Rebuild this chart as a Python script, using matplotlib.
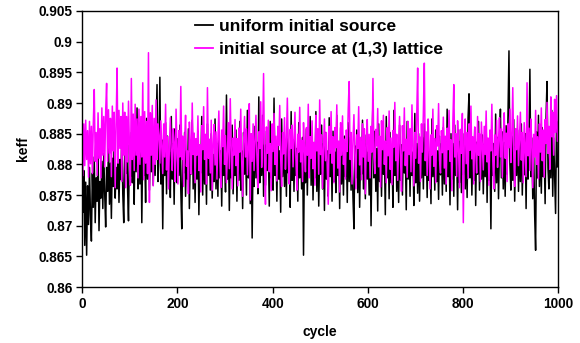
import matplotlib
matplotlib.use("Agg")
import matplotlib.pyplot as plt
from matplotlib.ticker import FuncFormatter

plt.rcParams['font.family'] = ['Liberation Sans', 'DejaVu Sans']

cycles = list(range(1, 1001, 2))

keff_uniform = [
    0.8722, 0.8790, 0.8668, 0.8771, 0.8652, 0.8765, 0.8702, 0.8795, 0.8718, 0.8675, 0.8786, 0.8730, 0.8812, 0.8705, 0.8778, 0.8740, 0.8822, 0.8692, 0.8772, 0.8745,
    0.8805, 0.8728, 0.8818, 0.8752, 0.8698, 0.8795, 0.8756, 0.8832, 0.8735, 0.8802, 0.8712, 0.8810, 0.8764, 0.8840, 0.8745, 0.8795, 0.8760, 0.8822, 0.8738, 0.8808,
    0.8775, 0.8848, 0.8752, 0.8705, 0.8822, 0.8785, 0.8866, 0.8762, 0.8708, 0.8832, 0.8780, 0.8852, 0.8770, 0.8812, 0.8735, 0.8870, 0.8788, 0.8892, 0.8760, 0.8826,
    0.8768, 0.8862, 0.8705, 0.8840, 0.8782, 0.8818, 0.8738, 0.8875, 0.8776, 0.8838, 0.8758, 0.8820, 0.8788, 0.8858, 0.8766, 0.8832, 0.8782, 0.8852, 0.8930, 0.8772,
    0.8815, 0.8942, 0.8768, 0.8840, 0.8695, 0.8826, 0.8782, 0.8868, 0.8752, 0.8846, 0.8788, 0.8820, 0.8746, 0.8878, 0.8776, 0.8834, 0.8735, 0.8858, 0.8792, 0.8770,
    0.8842, 0.8782, 0.8864, 0.8758, 0.8695, 0.8834, 0.8786, 0.8852, 0.8748, 0.8822, 0.8776, 0.8858, 0.8728, 0.8820, 0.8784, 0.8872, 0.8760, 0.8838, 0.8738, 0.8830,
    0.8776, 0.8854, 0.8718, 0.8818, 0.8786, 0.8878, 0.8750, 0.8840, 0.8768, 0.8824, 0.8735, 0.8866, 0.8782, 0.8834, 0.8758, 0.8850, 0.8745, 0.8816, 0.8772, 0.8874,
    0.8760, 0.8834, 0.8748, 0.8856, 0.8778, 0.8822, 0.8732, 0.8844, 0.8782, 0.8820, 0.8755, 0.8913, 0.8776, 0.8838, 0.8725, 0.8830, 0.8778, 0.8864, 0.8752, 0.8820,
    0.8782, 0.8856, 0.8740, 0.8838, 0.8774, 0.8870, 0.8758, 0.8822, 0.8728, 0.8852, 0.8784, 0.8834, 0.8750, 0.8888, 0.8778, 0.8826, 0.8736, 0.8842, 0.8680, 0.8820,
    0.8764, 0.8862, 0.8778, 0.8836, 0.8752, 0.8910, 0.8770, 0.8848, 0.8782, 0.8880, 0.8748, 0.8832, 0.8766, 0.8854, 0.8790, 0.8822, 0.8732, 0.8870, 0.8778, 0.8842,
    0.8758, 0.8908, 0.8782, 0.8834, 0.8740, 0.8852, 0.8776, 0.8822, 0.8722, 0.8874, 0.8780, 0.8846, 0.8764, 0.8828, 0.8748, 0.8860, 0.8786, 0.8820, 0.8730, 0.8886,
    0.8774, 0.8840, 0.8756, 0.8856, 0.8782, 0.8826, 0.8740, 0.8868, 0.8778, 0.8832, 0.8760, 0.8844, 0.8652, 0.8822, 0.8770, 0.8858, 0.8750, 0.8836, 0.8784, 0.8878,
    0.8766, 0.8850, 0.8742, 0.8828, 0.8778, 0.8886, 0.8756, 0.8842, 0.8732, 0.8820, 0.8784, 0.8864, 0.8760, 0.8834, 0.8725, 0.8852, 0.8776, 0.8822, 0.8748, 0.8876,
    0.8780, 0.8838, 0.8740, 0.8854, 0.8772, 0.8820, 0.8754, 0.8880, 0.8782, 0.8832, 0.8728, 0.8860, 0.8768, 0.8826, 0.8750, 0.8846, 0.8780, 0.8834, 0.8738, 0.8868,
    0.8772, 0.8844, 0.8758, 0.8822, 0.8746, 0.8695, 0.8830, 0.8778, 0.8856, 0.8754, 0.8840, 0.8730, 0.8826, 0.8784, 0.8872, 0.8760, 0.8834, 0.8744, 0.8848, 0.8776,
    0.8820, 0.8750, 0.8842, 0.8700, 0.8832, 0.8905, 0.8778, 0.8854, 0.8756, 0.8826, 0.8724, 0.8866, 0.8772, 0.8838, 0.8748, 0.8850, 0.8784, 0.8822, 0.8718, 0.8878,
    0.8778, 0.8836, 0.8744, 0.8852, 0.8770, 0.8824, 0.8730, 0.8888, 0.8782, 0.8840, 0.8756, 0.8820, 0.8738, 0.8864, 0.8774, 0.8832, 0.8750, 0.8848, 0.8786, 0.8822,
    0.8726, 0.8870, 0.8776, 0.8838, 0.8748, 0.8856, 0.8782, 0.8820, 0.8733, 0.8883, 0.8770, 0.8834, 0.8753, 0.8850, 0.8740, 0.8826, 0.8778, 0.8844, 0.8760, 0.8866,
    0.8782, 0.8832, 0.8746, 0.8852, 0.8774, 0.8820, 0.8736, 0.8874, 0.8780, 0.8838, 0.8758, 0.8856, 0.8772, 0.8822, 0.8743, 0.8846, 0.8783, 0.8834, 0.8750, 0.8860,
    0.8768, 0.8843, 0.8756, 0.8890, 0.8780, 0.8826, 0.8734, 0.8850, 0.8776, 0.8834, 0.8748, 0.8864, 0.8782, 0.8820, 0.8726, 0.8856, 0.8770, 0.8838, 0.8754, 0.8830,
    0.8783, 0.8850, 0.8760, 0.8834, 0.8746, 0.8876, 0.8915, 0.8778, 0.8842, 0.8750, 0.8823, 0.8774, 0.8858, 0.8733, 0.8836, 0.8784, 0.8870, 0.8758, 0.8826, 0.8776,
    0.8848, 0.8752, 0.8833, 0.8780, 0.8864, 0.8738, 0.8840, 0.8774, 0.8823, 0.8695, 0.8856, 0.8782, 0.8834, 0.8756, 0.8882, 0.8770, 0.8844, 0.8744, 0.8826, 0.8890,
    0.8778, 0.8853, 0.8760, 0.8836, 0.8748, 0.8863, 0.8784, 0.8890, 0.8985, 0.8800, 0.8758, 0.8846, 0.8774, 0.8873, 0.8740, 0.8830, 0.8782, 0.8856, 0.8756, 0.8838,
    0.8772, 0.8866, 0.8750, 0.8823, 0.8783, 0.8850, 0.8728, 0.8876, 0.8776, 0.8834, 0.8955, 0.8780, 0.8843, 0.8744, 0.8820, 0.8718, 0.8660, 0.8853, 0.8778, 0.8880,
    0.8764, 0.8846, 0.8753, 0.8860, 0.8780, 0.8826, 0.8736, 0.8878, 0.8935, 0.8794, 0.8760, 0.8853, 0.8778, 0.8888, 0.8748, 0.8843, 0.8784, 0.8720, 0.8870, 0.8796,
]

keff_lattice13 = [
    0.8782, 0.8866, 0.8798, 0.8872, 0.8808, 0.8855, 0.8779, 0.8870, 0.8801, 0.8862, 0.8785, 0.8865, 0.8922, 0.8805, 0.8852, 0.8782, 0.8884, 0.8810, 0.8858, 0.8778,
    0.8892, 0.8815, 0.8878, 0.8796, 0.8885, 0.8932, 0.8805, 0.8889, 0.8818, 0.8875, 0.8780, 0.8895, 0.8822, 0.8885, 0.8762, 0.8866, 0.8957, 0.8802, 0.8888, 0.8826,
    0.8878, 0.8772, 0.8900, 0.8815, 0.8885, 0.8762, 0.8878, 0.8804, 0.8903, 0.8828, 0.8766, 0.8940, 0.8808, 0.8882, 0.8790, 0.8898, 0.8815, 0.8874, 0.8778, 0.8890,
    0.8800, 0.8878, 0.8812, 0.8933, 0.8775, 0.8886, 0.8802, 0.8870, 0.8785, 0.8982, 0.8738, 0.8884, 0.8815, 0.8896, 0.8765, 0.8875, 0.8800, 0.8905, 0.8808, 0.8866,
    0.8848, 0.8802, 0.8871, 0.8829, 0.8785, 0.8866, 0.8812, 0.8898, 0.8791, 0.8845, 0.8760, 0.8830, 0.8876, 0.8818, 0.8790, 0.8858, 0.8835, 0.8772, 0.8890, 0.8826,
    0.8768, 0.8855, 0.8812, 0.8927, 0.8808, 0.8846, 0.8764, 0.8838, 0.8880, 0.8797, 0.8822, 0.8752, 0.8869, 0.8836, 0.8784, 0.8900, 0.8816, 0.8851, 0.8770, 0.8842,
    0.8815, 0.8879, 0.8790, 0.8832, 0.8755, 0.8863, 0.8824, 0.8894, 0.8808, 0.8849, 0.8768, 0.8925, 0.8810, 0.8841, 0.8786, 0.8872, 0.8758, 0.8833, 0.8865, 0.8799,
    0.8853, 0.8776, 0.8840, 0.8887, 0.8812, 0.8762, 0.8856, 0.8829, 0.8895, 0.8800, 0.8847, 0.8770, 0.8818, 0.8868, 0.8793, 0.8907, 0.8826, 0.8760, 0.8843, 0.8815,
    0.8873, 0.8798, 0.8842, 0.8765, 0.8859, 0.8820, 0.8890, 0.8806, 0.8748, 0.8836, 0.8878, 0.8812, 0.8858, 0.8783, 0.8829, 0.8899, 0.8742, 0.8850, 0.8805, 0.8866,
    0.8790, 0.8838, 0.8880, 0.8815, 0.8762, 0.8853, 0.8826, 0.8902, 0.8795, 0.8845, 0.8948, 0.8806, 0.8735, 0.8861, 0.8818, 0.8872, 0.8788, 0.8834, 0.8757, 0.8866,
    0.8821, 0.8883, 0.8800, 0.8846, 0.8773, 0.8862, 0.8831, 0.8896, 0.8810, 0.8764, 0.8852, 0.8817, 0.8876, 0.8792, 0.8838, 0.8908, 0.8815, 0.8768, 0.8857, 0.8826,
    0.8864, 0.8796, 0.8840, 0.8885, 0.8812, 0.8758, 0.8849, 0.8820, 0.8893, 0.8804, 0.8839, 0.8772, 0.8868, 0.8825, 0.8788, 0.8860, 0.8815, 0.8898, 0.8778, 0.8845,
    0.8810, 0.8871, 0.8793, 0.8836, 0.8766, 0.8880, 0.8822, 0.8858, 0.8784, 0.8905, 0.8816, 0.8848, 0.8761, 0.8829, 0.8874, 0.8806, 0.8852, 0.8790, 0.8735, 0.8862,
    0.8818, 0.8886, 0.8802, 0.8845, 0.8770, 0.8860, 0.8827, 0.8897, 0.8794, 0.8838, 0.8755, 0.8868, 0.8815, 0.8879, 0.8800, 0.8841, 0.8776, 0.8856, 0.8821, 0.8890,
    0.8935, 0.8808, 0.8852, 0.8768, 0.8839, 0.8881, 0.8816, 0.8760, 0.8848, 0.8826, 0.8894, 0.8799, 0.8844, 0.8775, 0.8866, 0.8812, 0.8858, 0.8752, 0.8836, 0.8873,
    0.8805, 0.8849, 0.8778, 0.8862, 0.8820, 0.8940, 0.8812, 0.8785, 0.8857, 0.8830, 0.8891, 0.8796, 0.8846, 0.8763, 0.8871, 0.8824, 0.8880, 0.8800, 0.8838, 0.8770,
    0.8860, 0.8814, 0.8887, 0.8792, 0.8843, 0.8767, 0.8855, 0.8828, 0.8901, 0.8806, 0.8849, 0.8774, 0.8833, 0.8878, 0.8810, 0.8756, 0.8863, 0.8822, 0.8892, 0.8798,
    0.8841, 0.8779, 0.8870, 0.8816, 0.8858, 0.8788, 0.8897, 0.8832, 0.8765, 0.8852, 0.8810, 0.8876, 0.8957, 0.8802, 0.8845, 0.8772, 0.8866, 0.8820, 0.8884, 0.8965,
    0.8806, 0.8853, 0.8782, 0.8874, 0.8826, 0.8760, 0.8848, 0.8815, 0.8890, 0.8797, 0.8842, 0.8770, 0.8863, 0.8830, 0.8899, 0.8808, 0.8786, 0.8855, 0.8819, 0.8877,
    0.8794, 0.8846, 0.8768, 0.8859, 0.8824, 0.8888, 0.8805, 0.8840, 0.8757, 0.8868, 0.8930, 0.8812, 0.8850, 0.8780, 0.8871, 0.8826, 0.8762, 0.8857, 0.8818, 0.8883,
    0.8705, 0.8838, 0.8874, 0.8801, 0.8852, 0.8777, 0.8866, 0.8823, 0.8895, 0.8809, 0.8845, 0.8768, 0.8861, 0.8828, 0.8786, 0.8878, 0.8815, 0.8850, 0.8772, 0.8869,
    0.8830, 0.8791, 0.8862, 0.8816, 0.8887, 0.8804, 0.8843, 0.8766, 0.8856, 0.8822, 0.8898, 0.8808, 0.8760, 0.8848, 0.8815, 0.8872, 0.8795, 0.8839, 0.8876, 0.8812,
    0.8858, 0.8779, 0.8844, 0.8884, 0.8810, 0.8851, 0.8772, 0.8866, 0.8827, 0.8890, 0.8803, 0.8846, 0.8925, 0.8818, 0.8764, 0.8858, 0.8824, 0.8879, 0.8798, 0.8840,
    0.8885, 0.8807, 0.8852, 0.8770, 0.8868, 0.8826, 0.8780, 0.8933, 0.8814, 0.8859, 0.8790, 0.8874, 0.8832, 0.8762, 0.8849, 0.8812, 0.8888, 0.8800, 0.8845, 0.8776,
    0.8866, 0.8820, 0.8892, 0.8806, 0.8856, 0.8779, 0.8873, 0.8834, 0.8901, 0.8818, 0.8862, 0.8792, 0.8910, 0.8845, 0.8885, 0.8815, 0.8906, 0.8852, 0.8912, 0.8838,
]

series_labels = ["uniform initial source", "initial source at (1,3) lattice"]
x_ticks = [0, 200, 400, 600, 800, 1000]
y_ticks = [0.86, 0.865, 0.87, 0.875, 0.88, 0.885, 0.89, 0.895, 0.9, 0.905]

fig = plt.figure(figsize=(5.8, 3.43), dpi=100)
ax = fig.add_axes([0.142, 0.163, 0.820, 0.805])

ax.plot(cycles, keff_uniform, color="black", lw=1.1, label=series_labels[0])
ax.plot(cycles, keff_lattice13, color="#ff00ff", lw=1.1, label=series_labels[1])

ax.set_xlim(0, 1000)
ax.set_ylim(0.86, 0.905)
ax.set_xticks(x_ticks)
ax.set_yticks(y_ticks)
ax.yaxis.set_major_formatter(FuncFormatter(lambda v, p: ("%.3f" % v).rstrip("0").rstrip(".")))
ax.tick_params(direction="out", length=4, width=1, labelsize=9.8, pad=3)
for lab in ax.get_xticklabels() + ax.get_yticklabels():
    lab.set_fontweight("bold")
for s in ax.spines.values():
    s.set_linewidth(1.0)

ax.set_xlabel("cycle", fontsize=10, fontweight="bold", labelpad=10)
ax.set_ylabel("keff", fontsize=10, fontweight="bold", labelpad=6)

leg = ax.legend(loc="upper left", bbox_to_anchor=(0.237, 0.972), frameon=False,
                prop={"size": 12.5, "weight": "bold"}, handlelength=1.05,
                handletextpad=0.3, labelspacing=0.45, borderpad=0.0,
                borderaxespad=0.0)
for h in leg.get_lines():
    h.set_linewidth(1.3)

fig.savefig("out.png", dpi=100)
